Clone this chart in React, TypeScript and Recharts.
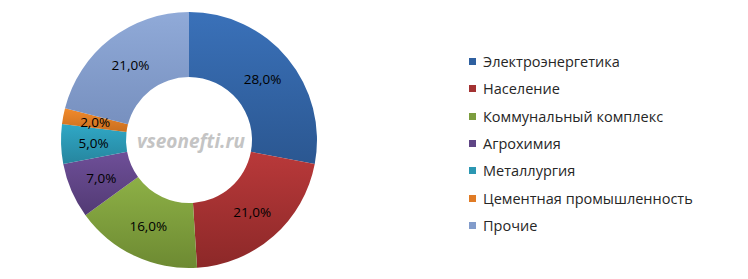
import React from 'react';
import { PieChart, Pie, Cell } from 'recharts';

const categories = [
  'Электроэнергетика',
  'Население',
  'Коммунальный комплекс',
  'Агрохимия',
  'Металлургия',
  'Цементная промышленность',
  'Прочие',
];
const values = [28, 21, 16, 7, 5, 2, 21];
const topColors = ['#3A71B9', '#B9393A', '#8DB046', '#6E4F98', '#30A8C6', '#F28B2C', '#90AAD8'];
const bottomColors = ['#2B5791', '#8C2828', '#6D8A32', '#523A74', '#26859E', '#C86E1F', '#7790BF'];
const legendColors = ['#2F60A0', '#A33232', '#7C9D3E', '#5F4585', '#2B97B2', '#E07B25', '#829CCB'];

const data = categories.map((name, i) => ({ name, value: values[i] }));

const RAD = Math.PI / 180;

const renderLabel = (props: any) => {
  const { cx, cy, midAngle, innerRadius, outerRadius, value } = props;
  const r = (innerRadius + outerRadius) / 2;
  const x = cx + r * Math.cos(-midAngle * RAD);
  const y = cy + r * Math.sin(-midAngle * RAD);
  return (
    <text
      x={x}
      y={y}
      fill="#000"
      textAnchor="middle"
      dominantBaseline="central"
      fontFamily="'Open Sans', sans-serif"
      fontSize={13.5}
    >
      {value.toFixed(1).replace('.', ',') + '%'}
    </text>
  );
};

export default function App() {
  return (
    <div style={{ position: 'absolute', left: 0, top: 0, width: 748, height: 279, background: '#fff' }}>
      <PieChart width={748} height={279} margin={{ top: 0, right: 0, bottom: 0, left: 0 }}>
        <defs>
          {topColors.map((c, i) => (
            <linearGradient key={i} id={`g${i}`} x1="0" y1="0" x2="0" y2="1">
              <stop offset="0%" stopColor={c} />
              <stop offset="100%" stopColor={bottomColors[i]} />
            </linearGradient>
          ))}
        </defs>
        <Pie
          data={data}
          dataKey="value"
          nameKey="name"
          cx={189}
          cy={140}
          innerRadius={63}
          outerRadius={128}
          startAngle={90}
          endAngle={-270}
          stroke="none"
          labelLine={false}
          label={renderLabel}
          isAnimationActive={false}
        >
          {data.map((d, i) => (
            <Cell key={d.name} fill={`url(#g${i})`} />
          ))}
        </Pie>
        <text
          x={191}
          y={141}
          textAnchor="middle"
          dominantBaseline="central"
          fontFamily="'Open Sans', sans-serif"
          fontStyle="italic"
          fontWeight="bold"
          fontSize={19}
          fill="#C4C4C4"
        >
          vseonefti.ru
        </text>
      </PieChart>
      <div style={{ position: 'absolute', left: 469, top: 48, fontFamily: "'Open Sans', sans-serif", fontSize: 14.5, color: '#262626' }}>
        {categories.map((c, i) => (
          <div key={c} style={{ display: 'flex', alignItems: 'center', height: 27.3 }}>
            <span style={{ width: 7, height: 7, background: legendColors[i], display: 'inline-block', marginRight: 7, flexShrink: 0 }} />
            <span style={{ whiteSpace: 'nowrap' }}>{c}</span>
          </div>
        ))}
      </div>
    </div>
  );
}
